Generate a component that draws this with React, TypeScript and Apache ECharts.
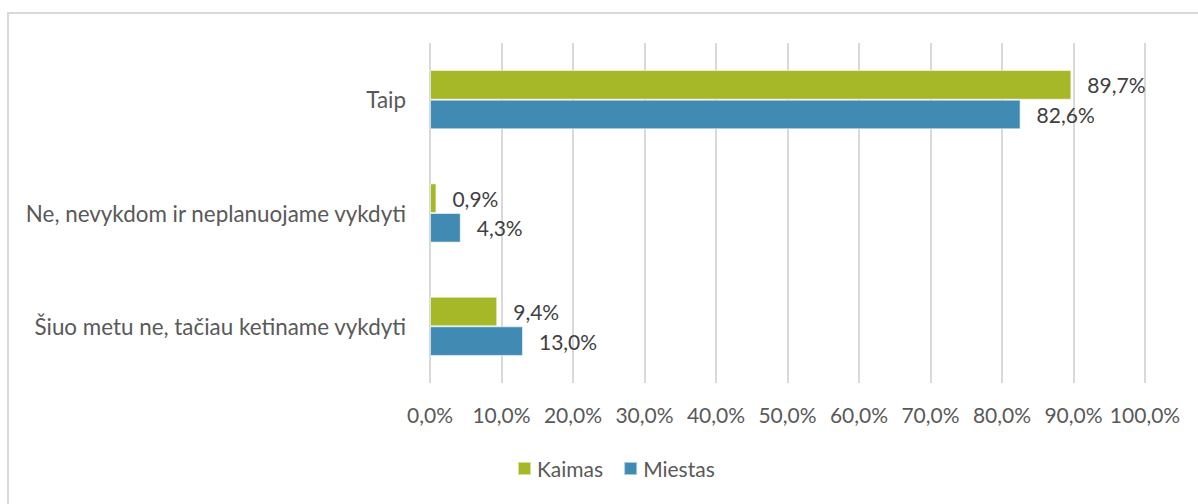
import React, { useEffect, useRef } from "react";
import * as echarts from "echarts";

const categories = [
  "Taip",
  "Ne, nevykdom ir neplanuojame vykdyti",
  "Šiuo metu ne, tačiau ketiname vykdyti",
];
const kaimasValues = [89.7, 0.9, 9.4];
const miestasValues = [82.6, 4.3, 13.0];
const seriesNames = ["Kaimas", "Miestas"];
const seriesColors = ["#A6B727", "#418AB3"];

const FONT = "Lato, 'Open Sans', sans-serif";
const fmt = (v: number) => v.toFixed(1).replace(".", ",") + "%";

export default function App() {
  const ref = useRef<HTMLDivElement>(null);
  useEffect(() => {
    document.body.style.margin = "0";
    if (!ref.current) return;
    const chart = echarts.init(ref.current, undefined, { renderer: "svg" });
    const mkSeries = (name: string, data: number[], color: string) => ({
      name,
      type: "bar",
      data,
      barWidth: 29.6,
      barGap: "0%",
      itemStyle: { color, borderColor: "rgba(255,255,255,0.55)", borderWidth: 1 },
      label: {
        show: true,
        position: "right",
        distance: 16,
        formatter: (p: any) => fmt(p.value),
        fontFamily: FONT,
        fontSize: 21,
        color: "#404040",
      },
    });
    chart.setOption({
      animation: false,
      textStyle: { fontFamily: FONT },
      graphic: [
        {
          type: "rect",
          shape: { x: 8, y: 13, width: 1400, height: 800 },
          style: { fill: "none", stroke: "#d9d9d9", lineWidth: 2 },
          silent: true,
        },
      ],
      grid: { left: 430, right: 53, top: 43, bottom: 121, containLabel: false },
      legend: {
        data: seriesNames,
        left: 512,
        top: 453,
        itemWidth: 13,
        itemHeight: 13,
        itemGap: 20,
        icon: "rect",
        textStyle: { fontFamily: FONT, fontSize: 21, color: "#595959", padding: [0, 0, 0, 1] },
      },
      xAxis: {
        type: "value",
        min: 0,
        max: 100,
        interval: 10,
        axisLine: { show: false },
        axisTick: { show: false },
        splitLine: { show: true, lineStyle: { color: "#d9d9d9", width: 2 } },
        axisLabel: {
          margin: 21,
          fontFamily: FONT,
          fontSize: 21,
          color: "#595959",
          formatter: (v: number) => fmt(v),
        },
      },
      yAxis: {
        type: "category",
        data: categories,
        inverse: true,
        axisLine: { show: false },
        axisTick: { show: false },
        splitLine: { show: false },
        axisLabel: { margin: 24, fontFamily: FONT, fontSize: 22.4, color: "#595959" },
      },
      series: [
        mkSeries(seriesNames[0], kaimasValues, seriesColors[0]),
        mkSeries(seriesNames[1], miestasValues, seriesColors[1]),
      ],
    });
    return () => chart.dispose();
  }, []);
  return <div ref={ref} style={{ width: 1198, height: 504 }} />;
}
